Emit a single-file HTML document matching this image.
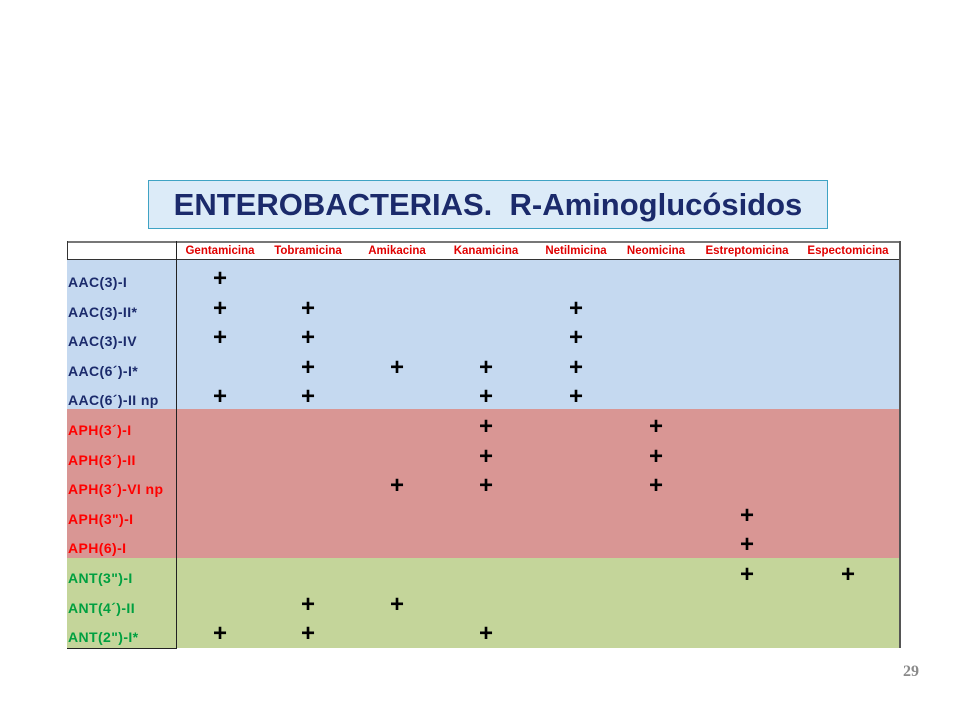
<!DOCTYPE html>
<html><head><meta charset="utf-8"><style>
body{margin:0;width:960px;height:720px;background:#fff;position:relative;font-family:"Liberation Sans",sans-serif;overflow:hidden}
.a{position:absolute}
.hdr{position:absolute;top:245px;font-size:11.5px;font-weight:bold;color:#e00000;transform:translateX(-50%);white-space:nowrap}
.lbl{position:absolute;left:68px;font-size:14px;font-weight:bold;letter-spacing:0.4px;transform:translateY(-50%);white-space:nowrap}
.p{position:absolute;font-size:24px;font-weight:bold;color:#000;transform:translate(-50%,-50%);line-height:1}
</style></head><body>
<div class="a" style="left:148px;top:180px;width:678px;height:47px;background:#dcebf8;border:1px solid #3fa3c4;display:flex;align-items:center;justify-content:center;font-size:31px;font-weight:bold;color:#1b2a6b">ENTEROBACTERIAS.&nbsp; R-Aminoglucósidos</div>
<div class="a" style="left:67px;top:260px;width:833px;height:149px;background:#c5d9f0"></div>
<div class="a" style="left:67px;top:409px;width:833px;height:149px;background:#d99694"></div>
<div class="a" style="left:67px;top:558px;width:833px;height:90px;background:#c4d59a"></div>
<div class="a" style="left:67px;top:241px;width:834px;height:2px;background:#777"></div>
<div class="a" style="left:67px;top:259px;width:834px;height:1px;background:#333"></div>
<div class="a" style="left:67px;top:241px;width:1px;height:19px;background:#333"></div>
<div class="a" style="left:899px;top:241px;width:2px;height:407px;background:#555"></div>
<div class="a" style="left:176px;top:241px;width:1px;height:408px;background:#222"></div>
<div class="a" style="left:67px;top:648px;width:110px;height:1px;background:#222"></div>
<div class="a" style="left:903px;top:663px;font-family:'Liberation Serif',serif;font-weight:bold;font-size:16px;color:#8a8a8a">29</div>
<div id="t"></div>
<script>
const drugs=["Gentamicina","Tobramicina","Amikacina","Kanamicina","Netilmicina","Neomicina","Estreptomicina","Espectomicina"];
const colX=[220,308,397,486,576,656,747,848];
const enzymes=["AAC(3)-I","AAC(3)-II*","AAC(3)-IV","AAC(6´)-I*","AAC(6´)-II np","APH(3´)-I","APH(3´)-II","APH(3´)-VI np","APH(3\")-I","APH(6)-I","ANT(3\")-I","ANT(4´)-II","ANT(2\")-I*"];
const groupColor=["#1b2a6b","#1b2a6b","#1b2a6b","#1b2a6b","#1b2a6b","#ff0000","#ff0000","#ff0000","#ff0000","#ff0000","#00a040","#00a040","#00a040"];
const matrix=[
[1,0,0,0,0,0,0,0],
[1,1,0,0,1,0,0,0],
[1,1,0,0,1,0,0,0],
[0,1,1,1,1,0,0,0],
[1,1,0,1,1,0,0,0],
[0,0,0,1,0,1,0,0],
[0,0,0,1,0,1,0,0],
[0,0,1,1,0,1,0,0],
[0,0,0,0,0,0,1,0],
[0,0,0,0,0,0,1,0],
[0,0,0,0,0,0,1,1],
[0,1,1,0,0,0,0,0],
[1,1,0,1,0,0,0,0]];
const t=document.getElementById('t');
drugs.forEach((d,i)=>{const e=document.createElement('div');e.className='hdr';e.style.left=colX[i]+'px';e.textContent=d;


t.appendChild(e);});
enzymes.forEach((n,r)=>{const y=282+r*29.6;const l=document.createElement('div');l.className='lbl';l.style.top=y+'px';l.style.color=groupColor[r];l.textContent=n;


t.appendChild(l);
matrix[r].forEach((v,c)=>{if(!v)return;const p=document.createElement('div');p.className='p';p.style.left=colX[c]+'px';p.style.top=(y-3)+'px';p.textContent='+';


t.appendChild(p);});});
</script>
</body></html>
